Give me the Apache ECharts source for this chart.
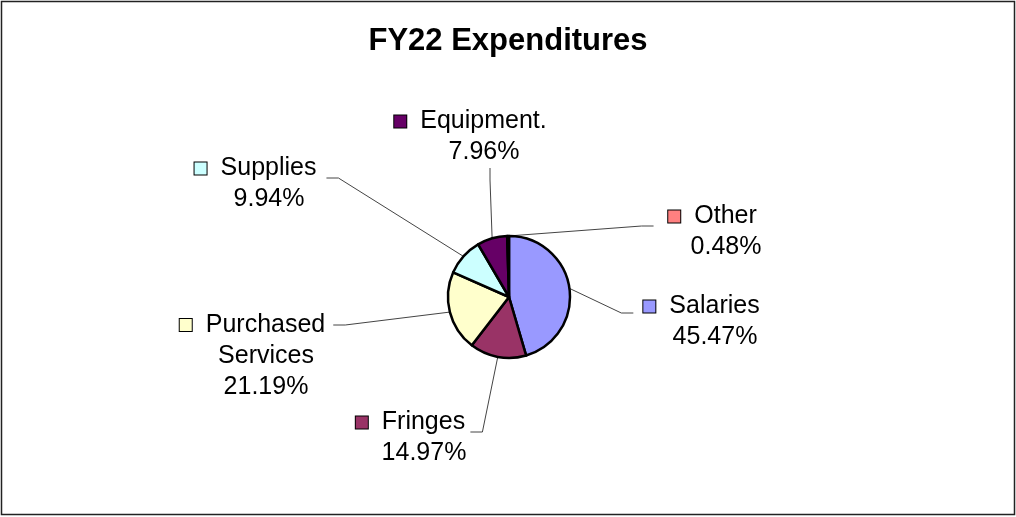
<!DOCTYPE html>
<html>
<head>
<meta charset="utf-8">
<script src="https://cdn.jsdelivr.net/npm/echarts@6/dist/echarts.min.js"></script>
<style>
html,body{margin:0;padding:0;background:#fff;}
#chart{width:1016px;height:517px;}
</style>
</head>
<body>
<div id="chart"></div>
<script>
// ---- data ----
var categories = ['Salaries', 'Fringes', 'Purchased Services', 'Supplies', 'Equipment.', 'Other'];
var labelNames = ['Salaries', 'Fringes', 'Purchased\nServices', 'Supplies', 'Equipment.', 'Other'];
var percents = [45.47, 14.97, 21.19, 9.94, 7.96, 0.48];
var colors = ['#9999FF', '#993366', '#FFFFCC', '#CCFFFF', '#660066', '#FF8080'];
// label block anchor (text centre x, block centre y)
var labelPos = [[715, 322], [424, 438], [266, 356], [269, 184], [484, 137], [726, 232]];
// extra invisible padding [top, right, bottom, left] used only to steer leader-line attachment
var labelPad = [[18, 0, 0, 10], [12, 4, 0, 0], [62, 8, 0, 0], [12, 10, 0, 0], [0, 40, 0, 0], [12, 0, 0, 10]];

var MARK = 27; // marker + gap width
var FONT = 'Liberation Sans, Arial, sans-serif';

var rich = {
  g: { width: 14 },
  f: { width: MARK },
  n: { fontSize: 25, lineHeight: 31, color: '#000', fontFamily: FONT },
  v: { fontSize: 25, lineHeight: 31, color: '#000', fontFamily: FONT }
};
colors.forEach(function (c, i) {
  rich['m' + i] = { width: 12, height: 12, backgroundColor: c, borderColor: '#000', borderWidth: 1 };
});

var data = categories.map(function (c, i) {
  return {
    name: c, value: percents[i], itemStyle: { color: colors[i] },
    label: { padding: labelPad[i], backgroundColor: 'rgba(255,255,255,0)' }
  };
});

var chart = echarts.init(document.getElementById('chart'), null, { renderer: 'canvas' });
chart.setOption({
  animation: false,
  backgroundColor: '#fff',
  title: {
    text: 'FY22 Expenditures',
    left: 'center',
    top: 26,
    padding: 0,
    textStyle: { fontSize: 31, fontWeight: 'bold', color: '#000', fontFamily: FONT }
  },
  graphic: [{
    type: 'rect',
    shape: { x: 1.5, y: 1.5, width: 1013, height: 513 },
    style: { fill: 'none', stroke: '#222', lineWidth: 1.5 },
    silent: true
  }],
  series: [{
    type: 'pie',
    center: [509, 297],
    radius: 61,
    startAngle: 90,
    clockwise: true,
    data: data,
    itemStyle: { borderColor: '#000', borderWidth: 2.5 },
    label: {
      show: true,
      position: 'outside',
      align: 'center',
      formatter: function (p) {
        var i = p.dataIndex;
        var lines = labelNames[i].split('\n');
        var s = '{m' + i + '|}{g|}{n|' + lines[0] + '}';
        for (var k = 1; k < lines.length; k++) s += '\n{f|}{n|' + lines[k] + '}';
        s += '\n{f|}{v|' + percents[i].toFixed(2) + '%}';
        return s;
      },
      rich: rich
    },
    labelLine: {
      show: true,
      length: 10,
      length2: 12,
      lineStyle: { color: '#444', width: 1 }
    },
    labelLayout: function (params) {
      var i = params.dataIndex;
      var pos = labelPos[i], pad = labelPad[i];
      return {
        x: pos[0] - MARK / 2 + (pad[1] - pad[3]) / 2,
        y: pos[1] - (pad[0] - pad[2]) / 2,
        align: 'center',
        verticalAlign: 'middle'
      };
    }
  }]
});
</script>
</body>
</html>
